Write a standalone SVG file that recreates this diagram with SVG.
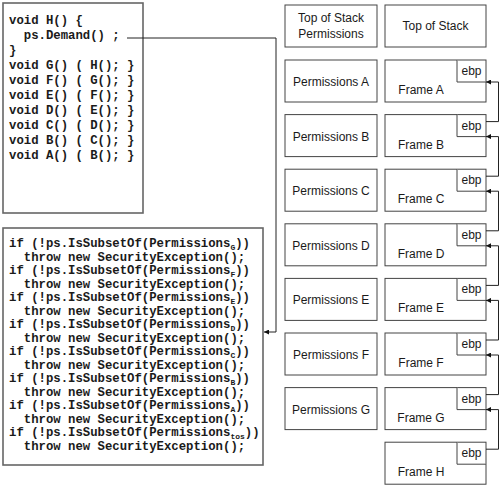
<svg xmlns="http://www.w3.org/2000/svg" width="500" height="487" viewBox="0 0 500 487">
<defs>
<style>
.code{font-family:"Liberation Mono","Courier New",monospace;font-weight:bold;font-size:12.3px;fill:#1a1a1a;white-space:pre}
.sub{font-size:8px}
.cbox{fill:#fff;stroke:#666;stroke-width:1.6}
.box{fill:#fff;stroke:#444;stroke-width:1}
.lbl{font-family:"Liberation Sans",Arial,sans-serif;font-size:12px;fill:#1a1a1a;text-anchor:middle}
.conn{fill:none;stroke:#222;stroke-width:1}
</style>
<marker id="ah" viewBox="0 0 10 10" refX="10" refY="5" markerWidth="7" markerHeight="5" markerUnits="userSpaceOnUse" orient="auto">
<path d="M0,0 L10,5 L0,10 z" fill="#111"/>
</marker>
</defs>
<rect width="500" height="487" fill="#fff"/>

<g id="code-callers">
<rect class="cbox" x="3" y="3" width="140" height="210"/>
<text class="code" x="9" y="24">void H() {</text>
<text class="code" x="9" y="39">  ps.Demand() ;</text>
<text class="code" x="9" y="54">}</text>
<text class="code" x="9" y="69">void G() ( H(); }</text>
<text class="code" x="9" y="84">void F() ( G(); }</text>
<text class="code" x="9" y="99">void E() ( F(); }</text>
<text class="code" x="9" y="114">void D() ( E(); }</text>
<text class="code" x="9" y="129">void C() ( D(); }</text>
<text class="code" x="9" y="144">void B() ( C(); }</text>
<text class="code" x="9" y="159">void A() ( B(); }</text>
</g>

<g id="code-checks">
<rect class="cbox" x="3" y="228" width="260" height="237"/>
<text class="code" x="9" y="247">if (!ps.IsSubsetOf(Permissions<tspan class="sub" dy="3">G</tspan><tspan dy="-3">))</tspan></text>
<text class="code" x="9" y="260.5">  throw new SecurityException();</text>
<text class="code" x="9" y="274">if (!ps.IsSubsetOf(Permissions<tspan class="sub" dy="3">F</tspan><tspan dy="-3">))</tspan></text>
<text class="code" x="9" y="287.5">  throw new SecurityException();</text>
<text class="code" x="9" y="301">if (!ps.IsSubsetOf(Permissions<tspan class="sub" dy="3">E</tspan><tspan dy="-3">))</tspan></text>
<text class="code" x="9" y="314.5">  throw new SecurityException();</text>
<text class="code" x="9" y="328">if (!ps.IsSubsetOf(Permissions<tspan class="sub" dy="3">D</tspan><tspan dy="-3">))</tspan></text>
<text class="code" x="9" y="341.5">  throw new SecurityException();</text>
<text class="code" x="9" y="355">if (!ps.IsSubsetOf(Permissions<tspan class="sub" dy="3">C</tspan><tspan dy="-3">))</tspan></text>
<text class="code" x="9" y="368.5">  throw new SecurityException();</text>
<text class="code" x="9" y="382">if (!ps.IsSubsetOf(Permissions<tspan class="sub" dy="3">B</tspan><tspan dy="-3">))</tspan></text>
<text class="code" x="9" y="395.5">  throw new SecurityException();</text>
<text class="code" x="9" y="409">if (!ps.IsSubsetOf(Permissions<tspan class="sub" dy="3">A</tspan><tspan dy="-3">))</tspan></text>
<text class="code" x="9" y="422.5">  throw new SecurityException();</text>
<text class="code" x="9" y="436">if (!ps.IsSubsetOf(Permissions<tspan class="sub" dy="3">tos</tspan><tspan dy="-3">))</tspan></text>
<text class="code" x="9" y="449.5">  throw new SecurityException();</text>
</g>

<g id="perm-tos"><rect class="box" x="285" y="5" width="92" height="42"/><text class="lbl" x="331" y="22">Top of Stack</text><text class="lbl" x="331" y="38">Permissions</text></g>
<g id="perm-a"><rect class="box" x="285" y="60" width="92" height="42"/><text class="lbl" x="331" y="86">Permissions A</text></g>
<g id="perm-b"><rect class="box" x="285" y="114.6" width="92" height="42"/><text class="lbl" x="331" y="140.6">Permissions B</text></g>
<g id="perm-c"><rect class="box" x="285" y="169.2" width="92" height="42"/><text class="lbl" x="331" y="195.2">Permissions C</text></g>
<g id="perm-d"><rect class="box" x="285" y="223.8" width="92" height="42"/><text class="lbl" x="331" y="249.8">Permissions D</text></g>
<g id="perm-e"><rect class="box" x="285" y="278.4" width="92" height="42"/><text class="lbl" x="331" y="304.4">Permissions E</text></g>
<g id="perm-f"><rect class="box" x="285" y="333" width="92" height="42"/><text class="lbl" x="331" y="359">Permissions F</text></g>
<g id="perm-g"><rect class="box" x="285" y="387.6" width="92" height="42"/><text class="lbl" x="331" y="413.6">Permissions G</text></g>

<g id="frame-tos"><rect class="box" x="385" y="5" width="101" height="42"/><text class="lbl" x="435.5" y="30">Top of Stack</text></g>
<g id="frame-a"><rect class="box" x="385" y="60" width="101" height="42"/><path class="box" d="M457,60 V82 H486"/><text class="lbl" x="471.5" y="75">ebp</text><text class="lbl" x="421" y="94">Frame A</text></g>
<g id="frame-b"><rect class="box" x="385" y="114.6" width="101" height="42"/><path class="box" d="M457,114.6 V136.6 H486"/><text class="lbl" x="471.5" y="129.6">ebp</text><text class="lbl" x="421" y="148.6">Frame B</text></g>
<g id="frame-c"><rect class="box" x="385" y="169.2" width="101" height="42"/><path class="box" d="M457,169.2 V191.2 H486"/><text class="lbl" x="471.5" y="184.2">ebp</text><text class="lbl" x="421" y="203.2">Frame C</text></g>
<g id="frame-d"><rect class="box" x="385" y="223.8" width="101" height="42"/><path class="box" d="M457,223.8 V245.8 H486"/><text class="lbl" x="471.5" y="238.8">ebp</text><text class="lbl" x="421" y="257.8">Frame D</text></g>
<g id="frame-e"><rect class="box" x="385" y="278.4" width="101" height="42"/><path class="box" d="M457,278.4 V300.4 H486"/><text class="lbl" x="471.5" y="293.4">ebp</text><text class="lbl" x="421" y="312.4">Frame E</text></g>
<g id="frame-f"><rect class="box" x="385" y="333" width="101" height="42"/><path class="box" d="M457,333 V355 H486"/><text class="lbl" x="471.5" y="348">ebp</text><text class="lbl" x="421" y="367">Frame F</text></g>
<g id="frame-g"><rect class="box" x="385" y="387.6" width="101" height="42"/><path class="box" d="M457,387.6 V409.6 H486"/><text class="lbl" x="471.5" y="402.6">ebp</text><text class="lbl" x="421" y="421.6">Frame G</text></g>
<g id="frame-h"><rect class="box" x="385" y="442.2" width="101" height="42"/><path class="box" d="M457,442.2 V464.2 H486"/><text class="lbl" x="471.5" y="457.2">ebp</text><text class="lbl" x="421" y="476.2">Frame H</text></g>

<g id="connectors">
<path class="conn" d="M127,38 H276 V332 H264" marker-end="url(#ah)"/>
<path class="conn" d="M486,121.6 H498.5 V82 H486" marker-end="url(#ah)"/>
<path class="conn" d="M486,176.2 H498.5 V136.6 H486" marker-end="url(#ah)"/>
<path class="conn" d="M486,230.8 H498.5 V191.2 H486" marker-end="url(#ah)"/>
<path class="conn" d="M486,285.4 H498.5 V245.8 H486" marker-end="url(#ah)"/>
<path class="conn" d="M486,340 H498.5 V300.4 H486" marker-end="url(#ah)"/>
<path class="conn" d="M486,394.6 H498.5 V355 H486" marker-end="url(#ah)"/>
<path class="conn" d="M486,449.2 H498.5 V409.6 H486" marker-end="url(#ah)"/>
</g>
</svg>
